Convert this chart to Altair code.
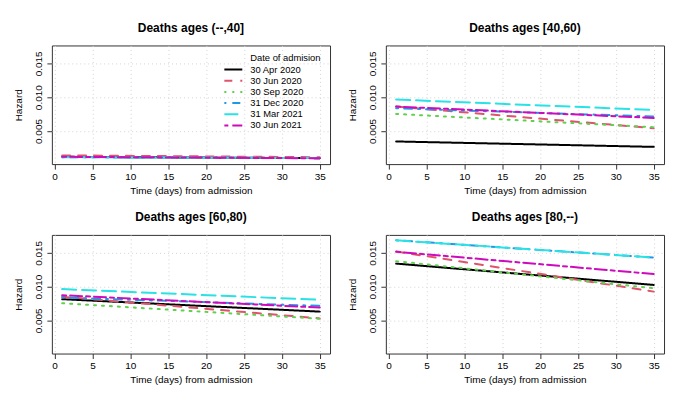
import altair as alt
import pandas as pd

# ---- data ----
series = ["30 Apr 2020", "30 Jun 2020", "30 Sep 2020", "31 Dec 2020", "31 Mar 2021", "30 Jun 2021"]
colors = ["#000000", "#DF536B", "#61D04F", "#2297E6", "#28E2E5", "#CD0BBC"]
dash_patterns = [[1, 0], [8, 8], [2, 6], [2, 6, 8, 6], [14, 6], [4, 4, 12, 4]]
legend_title = "Date of admision"
days = [1, 35]
panel_titles = ["Deaths ages (--,40]", "Deaths ages [40,60)", "Deaths ages [60,80)", "Deaths ages [80,--)"]
x_ticks = [0, 5, 10, 15, 20, 25, 30, 35]
y_ticks = [0.005, 0.010, 0.015]

# hazard at day 1 and at day 35, one value per series
p1_day1 = [0.00118, 0.00139, 0.00118, 0.00112, 0.00112, 0.00118]
p1_day35 = [0.00098, 0.00112, 0.00100, 0.00098, 0.00099, 0.00096]
p2_day1 = [0.00345, 0.00861, 0.00752, 0.00836, 0.00965, 0.00861]
p2_day35 = [0.00265, 0.00541, 0.00556, 0.00714, 0.00811, 0.00693]
p3_day1 = [0.00814, 0.00850, 0.00754, 0.00839, 0.00963, 0.00873]
p3_day35 = [0.00630, 0.00530, 0.00525, 0.00715, 0.00805, 0.00690]
p4_day1 = [0.01340, 0.01520, 0.01376, 0.01685, 0.01685, 0.01516]
p4_day35 = [0.01025, 0.00926, 0.00976, 0.01430, 0.01430, 0.01186]

panel_data = [(p1_day1, p1_day35), (p2_day1, p2_day35), (p3_day1, p3_day35), (p4_day1, p4_day35)]

FONT = "Liberation Sans"

legend_domain = [legend_title] + series
legend_colors = ["transparent"] + colors
legend_dashes = [[1, 0]] + dash_patterns


def make_panel(title, starts, ends):
    rows = []
    for i, s in enumerate(series):
        rows.append({"series": s, "order": i, "day": days[0], "hazard": starts[i]})
        rows.append({"series": s, "order": i, "day": days[1], "hazard": ends[i]})
    df = pd.DataFrame(rows)
    leg = alt.Legend(
        orient="none", legendX=172, legendY=8,
        symbolType="stroke", symbolSize=324, symbolStrokeWidth=2,
        clipHeight=10, rowPadding=1.2, labelFontSize=9.4, labelFont=FONT,
        labelOffset=7, padding=0, labelColor="black", labelLimit=300,
    )
    return alt.Chart(df).mark_line(strokeWidth=2, strokeCap="round", clip=True).encode(
        x=alt.X("day:Q",
                scale=alt.Scale(domain=[-0.36, 36.36], nice=False, zero=False),
                axis=alt.Axis(values=x_ticks, title="Time (days) from admission",
                              labelPadding=2, titlePadding=4)),
        y=alt.Y("hazard:Q",
                scale=alt.Scale(domain=[0.0001, 0.01765], nice=False, zero=False),
                axis=alt.Axis(values=y_ticks, format=".3f", title="Hazard",
                              labelAngle=270, labelAlign="center", labelBaseline="bottom",
                              labelPadding=3, titlePadding=10)),
        color=alt.Color("series:N", title=None,
                        scale=alt.Scale(domain=legend_domain, range=legend_colors),
                        legend=leg),
        strokeDash=alt.StrokeDash("series:N", title=None,
                                  scale=alt.Scale(domain=legend_domain, range=legend_dashes),
                                  legend=leg),
        detail="order:O",
        order="order:O",
    ).properties(
        width=279, height=119,
        title=alt.TitleParams(title, fontSize=12, fontWeight="bold", font=FONT,
                              color="black", offset=11),
    )


panels = [make_panel(t, a, b) for t, (a, b) in zip(panel_titles, panel_data)]

chart = alt.concat(
    *panels, columns=2, spacing={"row": 71, "column": 56}, bounds="flush"
).properties(
    padding={"left": 5, "top": 12, "right": 5, "bottom": 5}
).configure(font=FONT).configure_view(
    stroke="#333333", strokeWidth=1
).configure_axis(
    labelFontSize=10, titleFontSize=10, titleFontWeight="normal",
    labelColor="black", titleColor="black", tickColor="#333333",
    tickSize=5, domain=False, gridColor="#d3d3d3", gridDash=[1, 3], gridWidth=1,
    labelFont=FONT, titleFont=FONT,
)

chart.save("out.html", embed_options={"renderer": "svg", "actions": False})
